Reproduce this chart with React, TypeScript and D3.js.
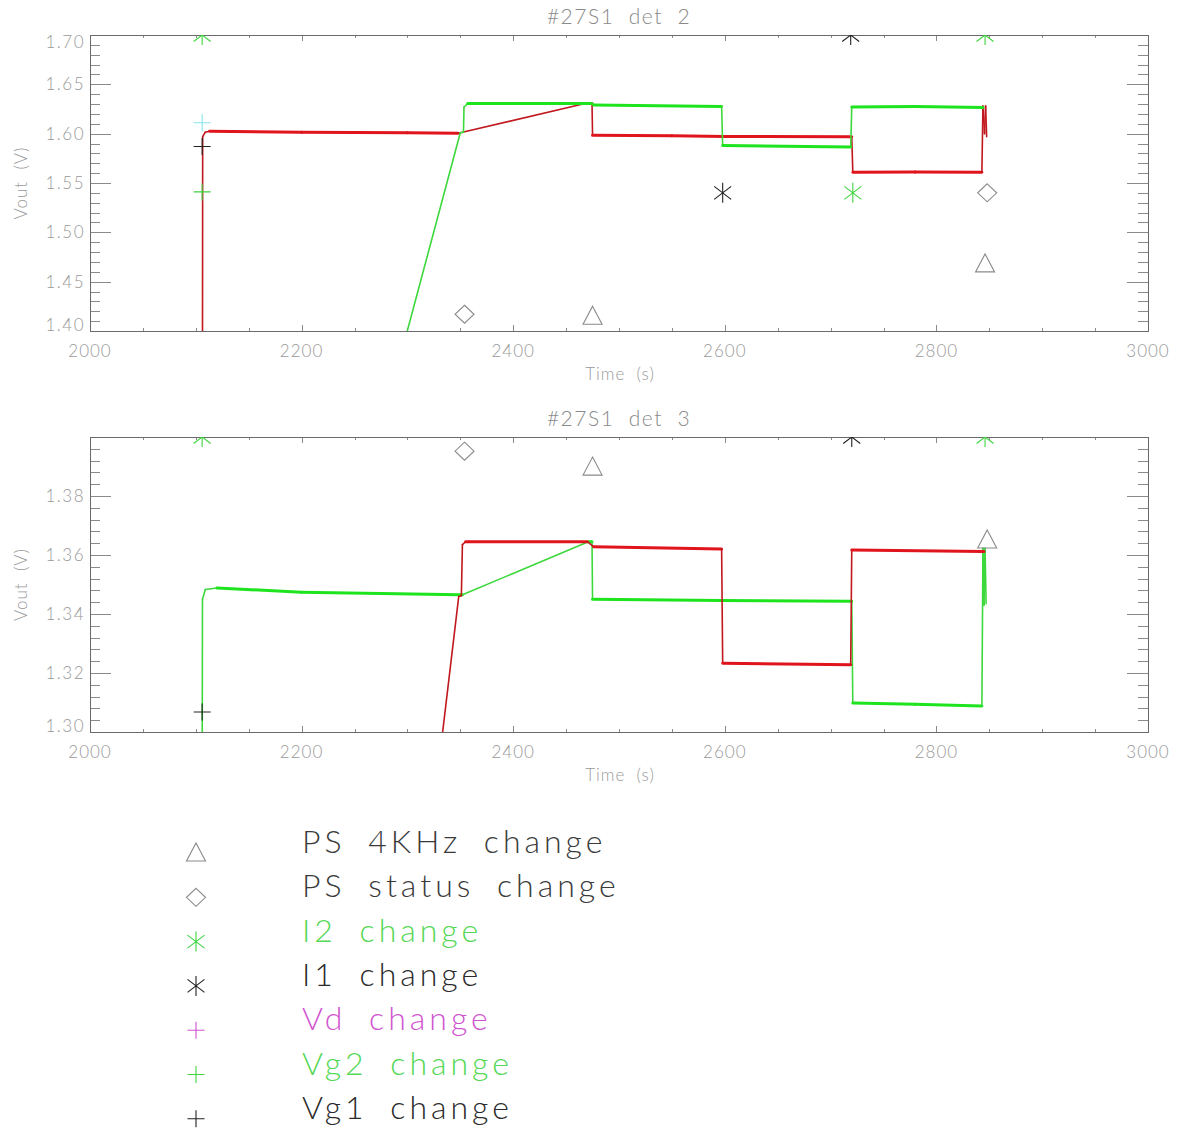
import { useEffect, useRef } from 'react'
import * as d3 from 'd3'

type Pt = [number, number]
type Sym = 'triangle' | 'diamond' | 'asterisk' | 'plus'
interface Ev { sym: Sym; color: string; t: number; v: number }

const GREEN = '#1ee41e'
const RED = '#e0141c'
const SYM_GREEN = '#3ed43e'
const SYM_BLACK = '#222222'
const SYM_GRAY = '#8a8a8a'
const SYM_CYAN = '#86e6f0'

const xTickValues = [2000, 2200, 2400, 2600, 2800, 3000]
const xTickLabels = ['2000', '2200', '2400', '2600', '2800', '3000']

// ── det 2 ─────────────────────────────────────────────
const det2Title = '#27S1  det  2'
const det2YTicks = [1.4, 1.45, 1.5, 1.55, 1.6, 1.65, 1.7]
const det2YLabels = ['1.40', '1.45', '1.50', '1.55', '1.60', '1.65', '1.70']
const det2Red: Pt[] = [
  [2106.3, 1.35], [2106.5, 1.597], [2109, 1.6015], [2113, 1.6025], [2200, 1.6015],
  [2300, 1.601], [2348, 1.6005], [2468, 1.6305], [2474.5, 1.6305], [2475, 1.5985],
  [2550, 1.5978], [2600, 1.5972], [2720, 1.5968], [2721, 1.561], [2780, 1.5612],
  [2843, 1.561], [2844, 1.628], [2845.5, 1.6], [2846.5, 1.628], [2847.5, 1.597],
]
const det2Green: Pt[] = [
  [2250, 1.2], [2350, 1.601], [2353, 1.6015], [2353.5, 1.627], [2357, 1.6305],
  [2474.5, 1.6305], [2476, 1.629], [2597, 1.6275], [2598, 1.588], [2719, 1.5865],
  [2720, 1.627], [2780, 1.6275], [2844, 1.6265],
]
const det2Events: Ev[] = [
  { sym: 'asterisk', color: SYM_GREEN, t: 2106, v: 1.7 },
  { sym: 'plus', color: SYM_CYAN, t: 2106, v: 1.611 },
  { sym: 'plus', color: SYM_BLACK, t: 2106, v: 1.587 },
  { sym: 'plus', color: SYM_GREEN, t: 2106, v: 1.541 },
  { sym: 'diamond', color: SYM_GRAY, t: 2354, v: 1.417 },
  { sym: 'triangle', color: SYM_GRAY, t: 2475, v: 1.415 },
  { sym: 'asterisk', color: SYM_BLACK, t: 2598, v: 1.54 },
  { sym: 'asterisk', color: SYM_BLACK, t: 2719, v: 1.7 },
  { sym: 'asterisk', color: SYM_GREEN, t: 2721, v: 1.54 },
  { sym: 'asterisk', color: SYM_GREEN, t: 2846, v: 1.7 },
  { sym: 'diamond', color: SYM_GRAY, t: 2848, v: 1.54 },
  { sym: 'triangle', color: SYM_GRAY, t: 2846, v: 1.468 },
]

// ── det 3 ─────────────────────────────────────────────
const det3Title = '#27S1  det  3'
const det3YTicks = [1.3, 1.32, 1.34, 1.36, 1.38, 1.4]
const det3YLabels = ['1.30', '1.32', '1.34', '1.36', '1.38', '']
const det3Red: Pt[] = [
  [2234, 1.0], [2348.5, 1.3459], [2351, 1.3462], [2352, 1.3635], [2355, 1.3645],
  [2470, 1.3645], [2476, 1.3628], [2597, 1.362], [2598, 1.3233], [2719, 1.3228],
  [2720, 1.3617], [2845, 1.3612],
]
const det3Green: Pt[] = [
  [2106, 1.28], [2106.3, 1.345], [2109, 1.3483], [2120, 1.3488], [2200, 1.3474],
  [2350, 1.3465], [2352, 1.3465], [2471, 1.3645], [2474.5, 1.3645], [2475, 1.345],
  [2597, 1.3446], [2720, 1.3443], [2721, 1.3098], [2780, 1.3094], [2843, 1.3088],
  [2844, 1.3623], [2845, 1.343], [2846, 1.3623], [2847, 1.3435],
]
const det3Events: Ev[] = [
  { sym: 'asterisk', color: SYM_GREEN, t: 2106, v: 1.4 },
  { sym: 'plus', color: SYM_BLACK, t: 2106, v: 1.3068 },
  { sym: 'diamond', color: SYM_GRAY, t: 2354, v: 1.3952 },
  { sym: 'triangle', color: SYM_GRAY, t: 2475, v: 1.3898 },
  { sym: 'asterisk', color: SYM_BLACK, t: 2720, v: 1.4 },
  { sym: 'asterisk', color: SYM_GREEN, t: 2846, v: 1.4 },
  { sym: 'triangle', color: SYM_GRAY, t: 2848, v: 1.3651 },
]

// ── legend ────────────────────────────────────────────
const legendLabels = [
  'PS 4KHz change', 'PS status change', 'I2 change', 'I1 change',
  'Vd change', 'Vg2 change', 'Vg1 change',
]
const legendSymbols: Sym[] = ['triangle', 'diamond', 'asterisk', 'asterisk', 'plus', 'plus', 'plus']
const legendSymbolColors = [SYM_GRAY, SYM_GRAY, SYM_GREEN, SYM_BLACK, '#d050d0', SYM_GREEN, SYM_BLACK]
const legendTextColors = ['#3a3a3a', '#3a3a3a', '#55d855', '#2a2a2a', '#d054d0', '#55d855', '#2a2a2a']

const FONT = 'Lato, "DejaVu Sans", sans-serif'

function symbolPath(s: Sym) {
  switch (s) {
    case 'triangle':
      return 'M0,-10L9.5,8L-9.5,8Z'
    case 'diamond':
      return 'M0,-9L9.5,0L0,9L-9.5,0Z'
    case 'asterisk':
      return 'M0,-10V10M-8.5,-6.5L8.5,6.5M-8.5,6.5L8.5,-6.5'
    default:
      return 'M-8.5,0H8.5M0,-8.5V8.5'
  }
}

const panels = [
  {
    title: det2Title, yTicks: det2YTicks, yLabels: det2YLabels, yMinor: 0.01,
    red: det2Red, green: det2Green, events: det2Events, top: 35, bottom: 331,
  },
  {
    title: det3Title, yTicks: det3YTicks, yLabels: det3YLabels, yMinor: 0.004,
    red: det3Red, green: det3Green, events: det3Events, top: 437, bottom: 732,
  },
]

export default function App() {
  const svgRef = useRef<SVGSVGElement>(null)

  useEffect(() => {
    const svg = d3.select(svgRef.current)
    svg.selectAll('*').remove()

    const left = 90
    const right = 1148

    panels.forEach((p, i) => {
      const x = d3.scaleLinear().domain([2000, 3000]).range([left, right])
      const y = d3
        .scaleLinear()
        .domain([p.yTicks[0]!, p.yTicks[p.yTicks.length - 1]!])
        .range([p.bottom, p.top])
      const g = svg.append('g')

      g.append('clipPath')
        .attr('id', `clip-${i}`)
        .append('rect')
        .attr('x', left)
        .attr('y', p.top)
        .attr('width', right - left)
        .attr('height', p.bottom - p.top)

      // title
      g.append('text')
        .attr('x', (left + right) / 2)
        .attr('y', p.top - 11)
        .attr('text-anchor', 'middle')
        .attr('fill', '#8a8a8a')
        .attr('font-size', 21)
        .attr('font-weight', 300)
        .attr('letter-spacing', 1.5)
        .style('white-space', 'pre')
        .text(p.title)

      // ticks (IDL style: both sides, minor ticks)
      const [y0, y1] = y.domain() as [number, number]
      const yMinorTicks = d3.range(y0, y1 + p.yMinor / 2, p.yMinor)
      const xMinorTicks = d3.range(2000, 3001, 50)
      const tickG = g.append('g').attr('stroke', '#8a8a8a').attr('stroke-width', 1)
      const majY = new Set(p.yTicks.map((d) => d.toFixed(3)))
      yMinorTicks.forEach((d) => {
        const len = majY.has(d.toFixed(3)) ? 21 : 10
        const yy = Math.round(y(d)) + 0.5
        tickG.append('line').attr('x1', left).attr('x2', left + len).attr('y1', yy).attr('y2', yy)
        tickG.append('line').attr('x1', right).attr('x2', right - len).attr('y1', yy).attr('y2', yy)
      })
      xMinorTicks.forEach((d) => {
        const len = d % 200 === 0 ? 6 : 3
        const xx = Math.round(x(d)) + 0.5
        tickG.append('line').attr('x1', xx).attr('x2', xx).attr('y1', p.bottom).attr('y2', p.bottom - len)
        tickG.append('line').attr('x1', xx).attr('x2', xx).attr('y1', p.top).attr('y2', p.top + len)
      })

      g.append('rect')
        .attr('x', left + 0.5)
        .attr('y', p.top + 0.5)
        .attr('width', right - left)
        .attr('height', p.bottom - p.top)
        .attr('fill', 'none')
        .attr('stroke', '#6a6a6a')

      // tick labels
      p.yTicks.forEach((d, k) => {
        const yy = Math.min(Math.max(y(d), p.top + 7), p.bottom - 6)
        g.append('text')
          .attr('x', left - 5)
          .attr('y', yy)
          .attr('dy', '0.35em')
          .attr('text-anchor', 'end')
          .attr('fill', '#999')
          .attr('font-size', 17)
          .attr('font-weight', 300)
          .attr('letter-spacing', 1.5)
          .text(p.yLabels[k]!)
      })
      xTickValues.forEach((d, k) => {
        g.append('text')
          .attr('x', x(d))
          .attr('y', p.bottom + 26)
          .attr('text-anchor', 'middle')
          .attr('fill', '#999')
          .attr('font-size', 17)
          .attr('font-weight', 300)
          .attr('letter-spacing', 1)
          .text(xTickLabels[k]!)
      })

      g.append('text')
        .attr('x', (left + right) / 2 + 1)
        .attr('y', p.bottom + 49)
        .attr('text-anchor', 'middle')
        .attr('fill', '#999')
        .attr('font-size', 17)
        .attr('font-weight', 300)
        .attr('letter-spacing', 1)
        .style('white-space', 'pre')
        .text('Time  (s)')

      g.append('text')
        .attr('transform', `translate(27,${(p.top + p.bottom) / 2}) rotate(-90)`)
        .attr('text-anchor', 'middle')
        .attr('fill', '#999')
        .attr('font-size', 17)
        .attr('font-weight', 300)
        .attr('letter-spacing', 1)
        .style('white-space', 'pre')
        .text('Vout  (V)')

      // series: near-flat runs drawn thick (noisy band), jumps and gaps thin
      const plotG = g.append('g').attr('clip-path', `url(#clip-${i})`)
      const drawSeries = (pts: Pt[], main: string, thin: string) => {
        for (let k = 1; k < pts.length; k++) {
          const ax = x(pts[k - 1]![0])
          const ay = y(pts[k - 1]![1])
          const bx = x(pts[k]![0])
          const by = y(pts[k]![1])
          const dx = Math.abs(bx - ax)
          const flat = dx > 2 && Math.abs(by - ay) / dx < 0.1
          plotG
            .append('line')
            .attr('x1', ax).attr('y1', ay).attr('x2', bx).attr('y2', by)
            .attr('stroke', flat ? main : thin)
            .attr('stroke-width', flat ? 3 : 1.6)
            .attr('stroke-linecap', 'round')
        }
      }
      if (i === 0) {
        drawSeries(p.red, RED, '#c0181e')
        drawSeries(p.green, GREEN, '#3cd83c')
      } else {
        drawSeries(p.green, GREEN, '#3cd83c')
        drawSeries(p.red, RED, '#c0181e')
      }

      // event markers
      p.events.forEach((e) => {
        plotG
          .append('path')
          .attr('transform', `translate(${x(e.t)},${y(e.v)})`)
          .attr('d', symbolPath(e.sym))
          .attr('fill', 'none')
          .attr('stroke', e.color)
          .attr('stroke-width', 1.1)
      })
    })

    // legend
    const lg = svg.append('g')
    legendLabels.forEach((label, k) => {
      const yy = 853 + k * 44.3
      lg.append('path')
        .attr('transform', `translate(196,${yy})`)
        .attr('d', symbolPath(legendSymbols[k]!))
        .attr('fill', 'none')
        .attr('stroke', legendSymbolColors[k]!)
        .attr('stroke-width', 1.1)
      lg.append('text')
        .attr('x', 302)
        .attr('y', yy)
        .attr('fill', legendTextColors[k]!)
        .attr('font-size', 32)
        .attr('font-weight', 300)
        .attr('letter-spacing', 4)
        .attr('word-spacing', 10)
        .text(label)
    })
  }, [])

  return (
    <svg
      ref={svgRef}
      width={1187}
      height={1130}
      style={{ position: 'absolute', left: 0, top: 0, background: '#fff', fontFamily: FONT }}
    />
  )
}
